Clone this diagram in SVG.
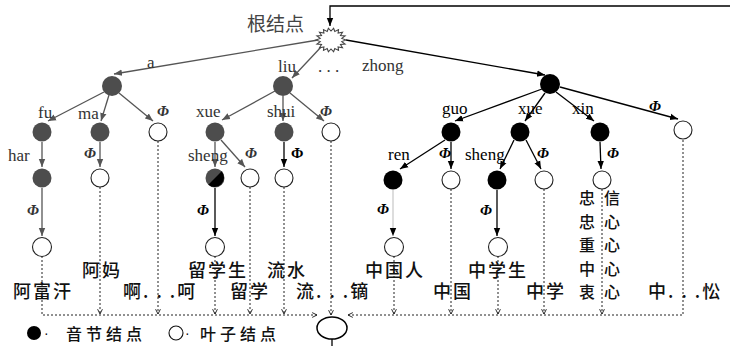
<svg xmlns="http://www.w3.org/2000/svg" width="730" height="346" viewBox="0 0 730 346">
<style>
.lat{font-family:"Liberation Serif",serif;font-size:17px;fill:#333}
.phi{font-family:"Liberation Serif",serif;font-size:15px;font-style:italic;font-weight:bold;fill:#333}
.cn{font-family:"Noto Sans CJK SC",sans-serif;font-size:18px;font-weight:500;fill:#111;letter-spacing:2px}
.g{fill:#4d4d4d}
.b{fill:#000}
.h{fill:#fff;stroke:#222;stroke-width:1.1}
.eg{stroke:#555;stroke-width:1.3;fill:none}
.eb{stroke:#000;stroke-width:1.3;fill:none}
.d{stroke:#222;stroke-width:1;stroke-dasharray:2 2;fill:none}
</style>
<defs>
<marker id="ag" viewBox="0 0 10 10" refX="10" refY="5" markerWidth="8" markerHeight="8" markerUnits="userSpaceOnUse" orient="auto"><path d="M0,1 L10,5 L0,9 z" fill="#555"/></marker>
<marker id="ab" viewBox="0 0 10 10" refX="10" refY="5" markerWidth="8" markerHeight="8" markerUnits="userSpaceOnUse" orient="auto"><path d="M0,1 L10,5 L0,9 z" fill="#000"/></marker>
<marker id="av" viewBox="0 0 10 10" refX="9" refY="5" markerWidth="6" markerHeight="6" markerUnits="userSpaceOnUse" orient="auto"><path d="M1,1 L9,5 L1,9" fill="none" stroke="#222" stroke-width="1.6"/></marker>
</defs>
<rect width="730" height="346" fill="#fff"/>

<g id="connectors">
  <path class="eb" d="M730,6 L330,6 L330,26" marker-end="url(#ab)"/>
  <line class="eg" x1="318" y1="40" x2="114" y2="74" marker-end="url(#ag)"/>
  <line class="eg" x1="322" y1="46" x2="292" y2="78" marker-end="url(#ag)"/>
  <line class="eb" x1="346" y1="40" x2="545" y2="75" marker-end="url(#ab)"/>
  <line class="eg" x1="104" y1="92" x2="48" y2="121" marker-end="url(#ag)"/>
  <line class="eg" x1="109" y1="95" x2="101" y2="121" marker-end="url(#ag)"/>
  <line class="eg" x1="119" y1="93" x2="153" y2="121" marker-end="url(#ag)"/>
  <line class="eg" x1="42" y1="142" x2="42" y2="167" marker-end="url(#ag)"/>
  <line class="eg" x1="100" y1="142" x2="100" y2="167" marker-end="url(#ag)"/>
  <line class="eg" x1="42" y1="188" x2="42" y2="236" marker-end="url(#ag)"/>
  <line class="eg" x1="275" y1="91" x2="222" y2="120" marker-end="url(#ag)"/>
  <line class="eg" x1="283" y1="96" x2="283" y2="121" marker-end="url(#ag)"/>
  <line class="eg" x1="290" y1="93" x2="324" y2="121" marker-end="url(#ag)"/>
  <line class="eg" x1="215" y1="142" x2="215" y2="167" marker-end="url(#ag)"/>
  <line class="eg" x1="221" y1="140" x2="245" y2="167" marker-end="url(#ag)"/>
  <line class="eb" x1="284" y1="142" x2="284" y2="167" marker-end="url(#ab)"/>
  <line class="eb" x1="215" y1="188" x2="215" y2="236" marker-end="url(#ab)"/>
  <line class="eb" x1="542" y1="89" x2="455" y2="121" marker-end="url(#ab)"/>
  <line class="eb" x1="545" y1="93" x2="525" y2="121" marker-end="url(#ab)"/>
  <line class="eb" x1="556" y1="92" x2="594" y2="121" marker-end="url(#ab)"/>
  <line class="eb" x1="560" y1="87" x2="678" y2="119" marker-end="url(#ab)"/>
  <line class="eb" x1="445" y1="140" x2="400" y2="169" marker-end="url(#ab)"/>
  <line class="eb" x1="451" y1="142" x2="451" y2="169" marker-end="url(#ab)"/>
  <line class="eb" x1="514" y1="140" x2="500" y2="169" marker-end="url(#ab)"/>
  <line class="eb" x1="526" y1="140" x2="541" y2="169" marker-end="url(#ab)"/>
  <line class="eb" x1="600" y1="142" x2="601" y2="169" marker-end="url(#ab)"/>
  <line x1="393" y1="190" x2="393" y2="236" stroke="#bbb" stroke-width="1" marker-end="url(#ab)"/>
  <line class="eb" x1="497" y1="190" x2="497" y2="236" marker-end="url(#ab)"/>
  <path class="d" d="M42,256 L42,315 L317,315" marker-end="url(#av)"/>
  <path class="d" d="M683,140 L683,315 L348,315" marker-end="url(#av)"/>
  <line class="d" x1="100" y1="187" x2="100" y2="314" marker-end="url(#av)"/>
  <line class="d" x1="158" y1="141" x2="158" y2="314" marker-end="url(#av)"/>
  <line class="d" x1="215" y1="256" x2="215" y2="314" marker-end="url(#av)"/>
  <line class="d" x1="250" y1="187" x2="250" y2="314" marker-end="url(#av)"/>
  <line class="d" x1="284" y1="187" x2="284" y2="314" marker-end="url(#av)"/>
  <line class="d" x1="331" y1="141" x2="331" y2="315" marker-end="url(#av)"/>
  <line class="d" x1="394" y1="256" x2="394" y2="314" marker-end="url(#av)"/>
  <line class="d" x1="451" y1="189" x2="451" y2="314" marker-end="url(#av)"/>
  <line class="d" x1="498" y1="256" x2="498" y2="314" marker-end="url(#av)"/>
  <line class="d" x1="544" y1="189" x2="544" y2="314" marker-end="url(#av)"/>
  <line class="d" x1="602" y1="189" x2="602" y2="314" marker-end="url(#av)"/>
  <line x1="332" y1="339" x2="332" y2="346" stroke="#000" stroke-width="1.3"/>
</g>

<g id="root">
  <polygon points="346,40 341.8,41.6 345.1,44.1 340.5,44.5 342.5,47.7 338.1,46.9 338.5,50.4 334.8,48.5 333.6,51.8 331,49 328.4,51.8 327.2,48.5 323.5,50.4 323.9,46.9 319.5,47.7 321.5,44.5 316.9,44.1 320.2,41.6 316,40 320.2,38.4 316.9,35.9 321.5,35.5 319.5,32.3 323.9,33.1 323.5,29.6 327.2,31.5 328.4,28.2 331,31 333.6,28.2 334.8,31.5 338.5,29.6 338.1,33.1 342.5,32.3 340.5,35.5 345.1,35.9 341.8,38.4" fill="#fff" stroke="#444" stroke-width="1.1"/>
  <text x="247" y="31" style="font-family:'Noto Sans CJK SC',sans-serif;font-size:19px;fill:#444">根结点</text>
</g>

<g id="edge-labels">
  <text class="lat" x="147" y="68">a</text>
  <text class="lat" x="278" y="72">liu</text>
  <text class="lat" x="318" y="72">. . .</text>
  <text class="lat" x="362" y="71">zhong</text>
  <text class="lat" x="38" y="118">fu</text>
  <text class="lat" x="78" y="119">ma</text>
  <text class="phi" x="157" y="116">Φ</text>
  <text class="lat" x="196" y="117">xue</text>
  <text class="lat" x="267" y="117">shui</text>
  <text class="phi" x="320" y="116">Φ</text>
  <text class="lat" x="442" y="114" style="fill:#000">guo</text>
  <text class="lat" x="518" y="114" style="fill:#000">xue</text>
  <text class="lat" x="572" y="114" style="fill:#000">xin</text>
  <text class="phi" x="649" y="111" style="fill:#000">Φ</text>
  <text class="lat" x="8" y="161">har</text>
  <text class="phi" x="84" y="158">Φ</text>
  <text class="lat" x="188" y="161">sheng</text>
  <text class="phi" x="245" y="158">Φ</text>
  <text class="phi" x="291" y="158" style="fill:#000;font-style:normal">Φ</text>
  <text class="lat" x="388" y="160" style="fill:#000">ren</text>
  <text class="phi" x="439" y="158" style="fill:#000">Φ</text>
  <text class="lat" x="465" y="160" style="fill:#000">sheng</text>
  <text class="phi" x="537" y="158" style="fill:#000">Φ</text>
  <text class="phi" x="607" y="158" style="fill:#000">Φ</text>
  <text class="phi" x="27" y="215">Φ</text>
  <text class="phi" x="197" y="215" style="fill:#000">Φ</text>
  <text class="phi" x="377" y="214" style="fill:#000">Φ</text>
  <text class="phi" x="480" y="215" style="fill:#000">Φ</text>
</g>

<g id="n-a"><circle class="g" cx="112" cy="86" r="10"/></g>
<g id="n-liu"><circle class="g" cx="283" cy="86" r="10"/></g>
<g id="n-zhong"><circle class="b" cx="550" cy="84" r="10"/></g>

<g id="n-fu"><circle class="g" cx="42" cy="132" r="9.5"/></g>
<g id="n-ma"><circle class="g" cx="100" cy="132" r="9.5"/></g>
<g id="n-a-phi"><circle class="h" cx="158" cy="132" r="9"/></g>
<g id="n-xue"><circle class="g" cx="215" cy="132" r="9.5"/></g>
<g id="n-shui"><circle class="g" cx="284" cy="132" r="9.5"/></g>
<g id="n-liu-phi"><circle class="h" cx="331" cy="132" r="9"/></g>
<g id="n-guo"><circle class="b" cx="451" cy="132" r="9.5"/></g>
<g id="n-zxue"><circle class="b" cx="520" cy="132" r="9.5"/></g>
<g id="n-xin"><circle class="b" cx="600" cy="132" r="9.5"/></g>
<g id="n-zhong-phi"><circle class="h" cx="683" cy="130" r="9"/></g>

<g id="n-har"><circle class="g" cx="42" cy="178" r="9.5"/></g>
<g id="n-ma-phi"><circle class="h" cx="100" cy="178" r="9"/></g>
<g id="n-sheng"><circle class="g" cx="215" cy="178" r="9.5"/><path d="M221.7,171.3 A9.5,9.5 0 0 1 208.3,184.7 Z" fill="#000"/></g>
<g id="n-xue-phi"><circle class="h" cx="250" cy="178" r="9"/></g>
<g id="n-shui-phi"><circle class="h" cx="284" cy="178" r="9"/></g>
<g id="n-ren"><circle class="b" cx="393" cy="180" r="9.5"/></g>
<g id="n-guo-phi"><circle class="h" cx="451" cy="180" r="9"/></g>
<g id="n-zsheng"><circle class="b" cx="497" cy="180" r="9.5"/></g>
<g id="n-zxue-phi"><circle class="h" cx="544" cy="180" r="9"/></g>
<g id="n-xin-phi"><circle class="h" cx="602" cy="180" r="9"/></g>

<g id="n-har-phi"><circle class="h" cx="42" cy="247" r="9.5"/></g>
<g id="n-sheng-phi"><circle class="h" cx="215" cy="247" r="9.5"/></g>
<g id="n-ren-phi"><circle class="h" cx="394" cy="247" r="9.5"/></g>
<g id="n-zsheng-phi"><circle class="h" cx="498" cy="247" r="9.5"/></g>

<g id="n-collector"><ellipse cx="332" cy="328" rx="15" ry="11" fill="#fff" stroke="#000" stroke-width="1.5"/></g>

<g id="leaf-words">
  <text class="cn" x="13" y="298">阿富汗</text>
  <text class="cn" x="82" y="277">阿妈</text>
  <text class="cn" x="123" y="298">啊. . .呵</text>
  <text class="cn" x="188" y="277">留学生</text>
  <text class="cn" x="267" y="277">流水</text>
  <text class="cn" x="230" y="298">留学</text>
  <text class="cn" x="296" y="298">流. . .镝</text>
  <text class="cn" x="365" y="277">中国人</text>
  <text class="cn" x="433" y="298">中国</text>
  <text class="cn" x="468" y="277">中学生</text>
  <text class="cn" x="526" y="298">中学</text>
  <text class="cn" style="font-size:16px;letter-spacing:9px"><tspan x="579" y="204">忠信</tspan><tspan x="579" y="227.5">忠心</tspan><tspan x="579" y="251">重心</tspan><tspan x="579" y="274.5">中心</tspan><tspan x="579" y="298">衷心</tspan></text>
  <text class="cn" x="648" y="298">中. . .忪</text>
</g>

<g id="legend">
  <circle cx="34" cy="333" r="7" fill="#000"/>
  <text x="44" y="338" style="font-family:'Liberation Sans',sans-serif;font-size:14px;fill:#111">·</text>
  <text x="66" y="340" style="font-family:'Noto Sans CJK SC',sans-serif;font-size:16px;font-weight:500;fill:#111;letter-spacing:4px">音节结点</text>
  <circle cx="176" cy="333" r="7" fill="#fff" stroke="#111" stroke-width="1.1"/>
  <text x="185" y="338" style="font-family:'Liberation Sans',sans-serif;font-size:14px;fill:#111">·</text>
  <text x="200" y="340" style="font-family:'Noto Sans CJK SC',sans-serif;font-size:16px;font-weight:500;fill:#111;letter-spacing:4px">叶子结点</text>
</g>
</svg>
